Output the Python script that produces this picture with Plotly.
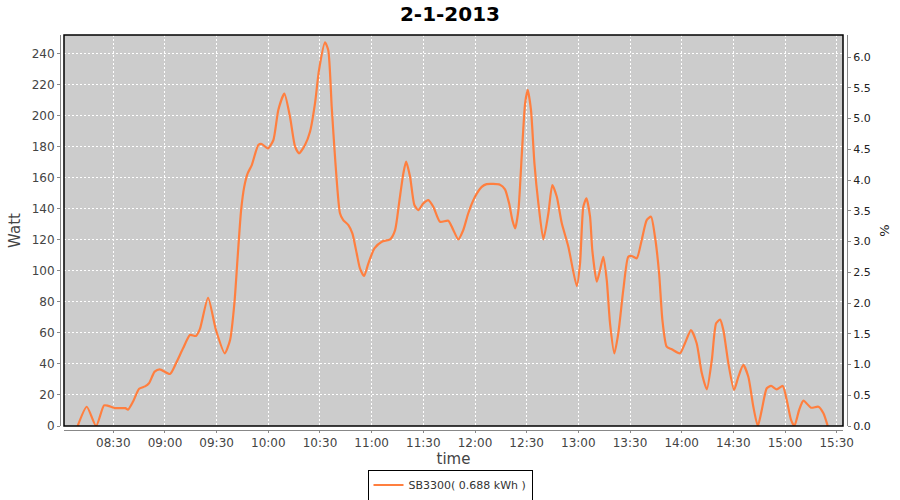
import plotly.graph_objects as go

DATE = "2013-01-02"
times = ["08:09:18", "08:14:36", "08:20:00", "08:24:36", "08:27:00", "08:31:00", "08:37:00", "08:38:30",
         "08:41:24", "08:45:00", "08:48:24", "08:50:42", "08:54:00", "08:57:00", "09:02:54", "09:06:24",
         "09:10:30", "09:14:30", "09:18:00", "09:20:18", "09:25:00", "09:29:36", "09:34:42", "09:37:48",
         "09:40:18", "09:42:12", "09:44:12", "09:46:00", "09:48:00", "09:50:24", "09:54:12", "09:56:12",
         "09:59:42", "10:02:54", "10:05:48", "10:09:18", "10:12:36", "10:15:30", "10:17:48", "10:21:18",
         "10:24:12", "10:27:06", "10:29:24", "10:32:54", "10:34:48", "10:36:48", "10:38:18", "10:39:42",
         "10:41:36", "10:43:30", "10:46:30", "10:48:48", "10:51:18", "10:53:12", "10:55:36", "10:58:06",
         "11:01:36", "11:05:54", "11:10:42", "11:13:36", "11:15:54", "11:18:24", "11:20:00", "11:22:18",
         "11:24:48", "11:27:06", "11:30:00", "11:32:54", "11:35:48", "11:39:42", "11:44:30", "11:47:24",
         "11:50:18", "11:53:12", "11:56:06", "12:00:00", "12:03:54", "12:06:48", "12:14:30", "12:17:24",
         "12:19:48", "12:21:42", "12:23:18", "12:25:12", "12:27:06", "12:29:06", "12:30:36", "12:32:30",
         "12:34:30", "12:36:48", "12:39:42", "12:42:36", "12:44:54", "12:47:30", "12:50:24", "12:54:12",
         "12:59:06", "13:01:00", "13:02:54", "13:04:42", "13:06:48", "13:08:06", "13:10:42", "13:12:36",
         "13:14:30", "13:16:30", "13:18:24", "13:20:54", "13:23:12", "13:26:06", "13:29:00", "13:31:00",
         "13:33:54", "13:36:48", "13:39:42", "13:42:12", "13:44:30", "13:46:54", "13:48:48", "13:51:18",
         "13:54:12", "13:59:00", "14:01:54", "14:05:24", "14:08:42", "14:11:42", "14:14:36", "14:17:30",
         "14:20:00", "14:22:18", "14:24:12", "14:27:06", "14:30:24", "14:32:54", "14:35:48", "14:38:42",
         "14:41:36", "14:44:12", "14:46:30", "14:49:24", "14:51:54", "14:55:12", "14:58:42", "15:01:00",
         "15:03:30", "15:05:24", "15:08:12", "15:10:42", "15:15:06", "15:19:24", "15:22:18", "15:24:48"]
watt = [0, 12.4, 0, 13.3, 13, 11.5, 11.5, 10.5,
        15.6, 24, 25.5, 27.5, 35, 36.5, 33.5, 40.4,
        50, 58.6, 58, 62.5, 82.6, 61.8, 46.8, 55.4,
        79, 109, 139, 154, 162.7, 168, 181, 181.6,
        178.8, 184, 203.5, 214, 199, 180, 175.6, 181,
        189.5, 207.8, 229, 247, 242, 205.6, 180, 158.4,
        137, 132.6, 129.4, 124, 111.2, 101.5, 96.6, 104.8,
        114.4, 118.7, 120.2, 126.2, 143.4, 162.7, 170.2, 160.5,
        142.3, 139, 143.4, 145.5, 141.2, 131.5, 132.2, 126.2,
        120.2, 126.2, 137, 147.6, 154, 155.8, 155.4, 152.4,
        143.4, 132.6, 127.3, 139, 173.4, 207.8, 216.4, 203.5,
        169.2, 143.4, 120.2, 137, 155.2, 147.6, 130.5, 115.5,
        90.1, 104.8, 141.2, 146.6, 134.8, 113.3, 92.9, 100.5,
        109, 94, 66.1, 46.8, 59.7, 87.6, 109, 109.5,
        108, 119.8, 132.6, 134.8, 121.9, 98.3, 68.3, 51.1,
        49.4, 46.8, 53.3, 61.8, 53.3, 33.9, 23.6, 42.5,
        66.1, 68.5, 61.8, 40.4, 23.2, 31.7, 39.3, 31.7,
        12.4, 0, 10.3, 24.3, 25.8, 23.6, 25.8, 16.7,
        3.9, 0, 10.3, 16.3, 11.8, 12.4, 8.2, 0]

series_name = "SB3300( 0.688 kWh )"
title_text = "2-1-2013"
x_range = ["08:01:22", "15:33:40"]
watt_range = [0, 251.8]
pct_range = [0, 6.36]

x = [f"{DATE} {t}" for t in times]

fig = go.Figure()
fig.add_trace(go.Scatter(x=x, y=watt, mode="lines", name=series_name,
                         line=dict(color="#FF7F3F", width=2.2, shape="spline", smoothing=0.6),
                         hoverinfo="x+y"))
fig.add_trace(go.Scatter(x=[x[0]], y=[0], yaxis="y2", mode="lines", showlegend=False,
                         hoverinfo="skip", line=dict(color="rgba(0,0,0,0)")))

W, H = 900, 500
ml, mr, mt, mb = 40, 40, 30, 60
pw, ph = W - ml - mr, H - mt - mb
xd = [(64 - ml) / pw, (843 - ml) / pw]
yd = [(H - mb - 426) / ph, (H - mb - 35) / ph]

FONT = "DejaVu Sans, Verdana, sans-serif"
axfont = dict(family=FONT, size=12, color="#444444")

fig.update_layout(
    width=W, height=H,
    margin=dict(l=ml, r=mr, t=mt, b=mb, autoexpand=False),
    paper_bgcolor="white",
    plot_bgcolor="#CCCCCC",
    title=dict(text="<b>" + title_text + "</b>", x=0.5, xanchor="center", y=1 - 14 / H, yanchor="middle",
               automargin=False, font=dict(family=FONT, size=20, color="black")),
    xaxis=dict(type="date", domain=xd, range=[f"{DATE} {x_range[0]}", f"{DATE} {x_range[1]}"],
               anchor="free", position=(H - mb - 430) / ph, automargin=False,
               tick0=f"{DATE} 08:30", dtick=1800000, tickformat="%H:%M",
               showgrid=True, gridcolor="white", griddash="2px,2px", gridwidth=1,
               showline=True, linecolor="#888888", linewidth=1,
               ticks="outside", ticklen=2, tickcolor="#888888",
               tickfont=axfont,
               title=dict(text="time", font=dict(family=FONT, size=15, color="#444444"), standoff=2),
               zeroline=False, fixedrange=True),
    yaxis=dict(domain=yd, range=watt_range, anchor="free", position=(60 - ml) / pw, automargin=False,
               dtick=20, tick0=0,
               showgrid=True, gridcolor="white", griddash="2px,2px", gridwidth=1,
               showline=True, linecolor="#888888", linewidth=1,
               ticks="outside", ticklen=3, tickcolor="#888888",
               tickfont=axfont,
               title=dict(text="Watt", font=dict(family=FONT, size=15, color="#444444"), standoff=6),
               zeroline=False, fixedrange=True),
    yaxis2=dict(domain=yd, range=pct_range, overlaying="y", side="right", anchor="free", automargin=False,
                position=(847 - ml) / pw, dtick=0.5, tick0=0, tickformat=".1f",
                showgrid=False, showline=True, linecolor="#888888", linewidth=1,
                ticks="outside", ticklen=3, tickcolor="#888888",
                tickfont=dict(family=FONT, size=11, color="#222222"),
                title=dict(text="%", font=dict(family=FONT, size=13, color="#222222"), standoff=10),
                zeroline=False, fixedrange=True),
    showlegend=True,
    legend=dict(orientation="h", x=0.5, xanchor="center", y=(H - mb - 485) / ph, yanchor="middle",
                bordercolor="black", borderwidth=1, bgcolor="white",
                font=dict(family=FONT, size=11, color="#333333"),
                itemwidth=30),
    shapes=[dict(type="rect", xref="x domain", yref="y domain", x0=0, x1=1, y0=0, y1=1,
                 line=dict(color="black", width=1.5), fillcolor="rgba(0,0,0,0)", layer="above")],
)

fig.write_html("out.html", config={"displayModeBar": False},
               post_script="document.body.style.margin='0px';document.body.style.overflow='hidden';")
